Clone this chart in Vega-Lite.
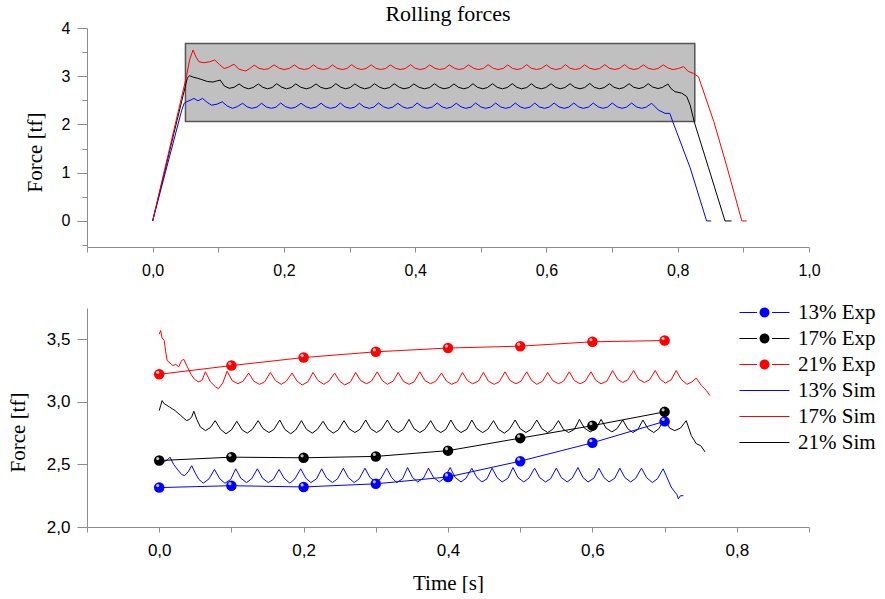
{
"$schema": "https://vega.github.io/schema/vega-lite/v6.json",
"background": "white",
"padding": {"left": 7, "top": 3, "right": 0, "bottom": 0},
"spacing": 24,
"config": {
  "view": {"stroke": null},
  "axis": {"domainColor": "#8c8c8c", "tickColor": "#8c8c8c", "labelColor": "#000000", "labelFont": "Liberation Sans", "titleFont": "Liberation Serif", "titleFontWeight": "normal", "titleColor": "#000000", "grid": false, "titleFontSize": 21},
  "title": {"font": "Liberation Serif", "fontWeight": "normal", "fontSize": 22, "color": "#000000"}
},
"datasets": {
  "box": [{"x1": 0.05, "x2": 0.826, "y1": 2.06, "y2": 3.68}],
  "exp": [
    {"t":0,"f":2.315,"s":"13% Exp"},{"t":0.1,"f":2.33,"s":"13% Exp"},{"t":0.2,"f":2.32,"s":"13% Exp"},{"t":0.3,"f":2.345,"s":"13% Exp"},{"t":0.4,"f":2.4,"s":"13% Exp"},{"t":0.5,"f":2.526,"s":"13% Exp"},{"t":0.6,"f":2.673,"s":"13% Exp"},{"t":0.7,"f":2.844,"s":"13% Exp"},
    {"t":0,"f":2.531,"s":"17% Exp"},{"t":0.1,"f":2.558,"s":"17% Exp"},{"t":0.2,"f":2.553,"s":"17% Exp"},{"t":0.3,"f":2.564,"s":"17% Exp"},{"t":0.4,"f":2.61,"s":"17% Exp"},{"t":0.5,"f":2.71,"s":"17% Exp"},{"t":0.6,"f":2.81,"s":"17% Exp"},{"t":0.7,"f":2.92,"s":"17% Exp"},
    {"t":0,"f":3.22,"s":"21% Exp"},{"t":0.1,"f":3.29,"s":"21% Exp"},{"t":0.2,"f":3.354,"s":"21% Exp"},{"t":0.3,"f":3.4,"s":"21% Exp"},{"t":0.4,"f":3.43,"s":"21% Exp"},{"t":0.5,"f":3.445,"s":"21% Exp"},{"t":0.6,"f":3.48,"s":"21% Exp"},{"t":0.7,"f":3.49,"s":"21% Exp"}
  ],
  "sim": [
    {"t":0,"f":2.545,"s":"13% Sim"},{"t":0.004,"f":2.505,"s":"13% Sim"},{"t":0.008,"f":2.525,"s":"13% Sim"},{"t":0.012,"f":2.54,"s":"13% Sim"},{"t":0.015,"f":2.558,"s":"13% Sim"},{"t":0.02,"f":2.5,"s":"13% Sim"},{"t":0.026,"f":2.455,"s":"13% Sim"},{"t":0.031,"f":2.42,"s":"13% Sim"},{"t":0.035,"f":2.41,"s":"13% Sim"},{"t":0.04,"f":2.44,"s":"13% Sim"},{"t":0.045,"f":2.49,"s":"13% Sim"},{"t":0.05,"f":2.43,"s":"13% Sim"},{"t":0.055,"f":2.38,"s":"13% Sim"},{"t":0.061,"f":2.35,"s":"13% Sim"},{"t":0.069,"f":2.385,"s":"13% Sim"},{"t":0.0765,"f":2.46,"s":"13% Sim"},{"t":0.084,"f":2.385,"s":"13% Sim"},{"t":0.091,"f":2.35,"s":"13% Sim"},{"t":0.099,"f":2.38,"s":"13% Sim"},{"t":0.106,"f":2.465,"s":"13% Sim"},{"t":0.113,"f":2.39,"s":"13% Sim"},{"t":0.121,"f":2.355,"s":"13% Sim"},{"t":0.128,"f":2.385,"s":"13% Sim"},{"t":0.136,"f":2.465,"s":"13% Sim"},{"t":0.143,"f":2.39,"s":"13% Sim"},{"t":0.151,"f":2.355,"s":"13% Sim"},{"t":0.158,"f":2.38,"s":"13% Sim"},{"t":0.166,"f":2.46,"s":"13% Sim"},{"t":0.173,"f":2.39,"s":"13% Sim"},{"t":0.181,"f":2.35,"s":"13% Sim"},{"t":0.188,"f":2.385,"s":"13% Sim"},{"t":0.196,"f":2.465,"s":"13% Sim"},{"t":0.203,"f":2.39,"s":"13% Sim"},{"t":0.21,"f":2.355,"s":"13% Sim"},{"t":0.218,"f":2.385,"s":"13% Sim"},{"t":0.225,"f":2.465,"s":"13% Sim"},{"t":0.232,"f":2.39,"s":"13% Sim"},{"t":0.24,"f":2.355,"s":"13% Sim"},{"t":0.247,"f":2.385,"s":"13% Sim"},{"t":0.255,"f":2.47,"s":"13% Sim"},{"t":0.262,"f":2.395,"s":"13% Sim"},{"t":0.27,"f":2.355,"s":"13% Sim"},{"t":0.277,"f":2.385,"s":"13% Sim"},{"t":0.285,"f":2.47,"s":"13% Sim"},{"t":0.292,"f":2.395,"s":"13% Sim"},{"t":0.3,"f":2.36,"s":"13% Sim"},{"t":0.307,"f":2.385,"s":"13% Sim"},{"t":0.315,"f":2.47,"s":"13% Sim"},{"t":0.322,"f":2.395,"s":"13% Sim"},{"t":0.329,"f":2.355,"s":"13% Sim"},{"t":0.337,"f":2.385,"s":"13% Sim"},{"t":0.344,"f":2.475,"s":"13% Sim"},{"t":0.351,"f":2.395,"s":"13% Sim"},{"t":0.358,"f":2.36,"s":"13% Sim"},{"t":0.366,"f":2.39,"s":"13% Sim"},{"t":0.373,"f":2.47,"s":"13% Sim"},{"t":0.38,"f":2.395,"s":"13% Sim"},{"t":0.388,"f":2.36,"s":"13% Sim"},{"t":0.395,"f":2.39,"s":"13% Sim"},{"t":0.403,"f":2.475,"s":"13% Sim"},{"t":0.41,"f":2.395,"s":"13% Sim"},{"t":0.418,"f":2.36,"s":"13% Sim"},{"t":0.425,"f":2.39,"s":"13% Sim"},{"t":0.433,"f":2.47,"s":"13% Sim"},{"t":0.44,"f":2.395,"s":"13% Sim"},{"t":0.447,"f":2.36,"s":"13% Sim"},{"t":0.454,"f":2.385,"s":"13% Sim"},{"t":0.461,"f":2.47,"s":"13% Sim"},{"t":0.468,"f":2.395,"s":"13% Sim"},{"t":0.475,"f":2.36,"s":"13% Sim"},{"t":0.483,"f":2.39,"s":"13% Sim"},{"t":0.49,"f":2.475,"s":"13% Sim"},{"t":0.497,"f":2.395,"s":"13% Sim"},{"t":0.505,"f":2.36,"s":"13% Sim"},{"t":0.512,"f":2.39,"s":"13% Sim"},{"t":0.52,"f":2.47,"s":"13% Sim"},{"t":0.527,"f":2.395,"s":"13% Sim"},{"t":0.535,"f":2.36,"s":"13% Sim"},{"t":0.542,"f":2.385,"s":"13% Sim"},{"t":0.55,"f":2.47,"s":"13% Sim"},{"t":0.557,"f":2.395,"s":"13% Sim"},{"t":0.565,"f":2.36,"s":"13% Sim"},{"t":0.572,"f":2.39,"s":"13% Sim"},{"t":0.58,"f":2.475,"s":"13% Sim"},{"t":0.587,"f":2.395,"s":"13% Sim"},{"t":0.594,"f":2.36,"s":"13% Sim"},{"t":0.602,"f":2.39,"s":"13% Sim"},{"t":0.609,"f":2.47,"s":"13% Sim"},{"t":0.616,"f":2.395,"s":"13% Sim"},{"t":0.623,"f":2.36,"s":"13% Sim"},{"t":0.631,"f":2.39,"s":"13% Sim"},{"t":0.638,"f":2.47,"s":"13% Sim"},{"t":0.645,"f":2.395,"s":"13% Sim"},{"t":0.653,"f":2.36,"s":"13% Sim"},{"t":0.66,"f":2.39,"s":"13% Sim"},{"t":0.668,"f":2.47,"s":"13% Sim"},{"t":0.675,"f":2.395,"s":"13% Sim"},{"t":0.683,"f":2.355,"s":"13% Sim"},{"t":0.69,"f":2.385,"s":"13% Sim"},{"t":0.698,"f":2.465,"s":"13% Sim"},{"t":0.703,"f":2.4,"s":"13% Sim"},{"t":0.709,"f":2.32,"s":"13% Sim"},{"t":0.714,"f":2.28,"s":"13% Sim"},{"t":0.717,"f":2.26,"s":"13% Sim"},{"t":0.719,"f":2.225,"s":"13% Sim"},{"t":0.722,"f":2.25,"s":"13% Sim"},{"t":0.726,"f":2.25,"s":"13% Sim"},
    {"t":0,"f":3.54,"s":"17% Sim"},{"t":0.002,"f":3.57,"s":"17% Sim"},{"t":0.004,"f":3.51,"s":"17% Sim"},{"t":0.007,"f":3.49,"s":"17% Sim"},{"t":0.009,"f":3.4,"s":"17% Sim"},{"t":0.011,"f":3.33,"s":"17% Sim"},{"t":0.015,"f":3.31,"s":"17% Sim"},{"t":0.019,"f":3.29,"s":"17% Sim"},{"t":0.023,"f":3.3,"s":"17% Sim"},{"t":0.027,"f":3.28,"s":"17% Sim"},{"t":0.031,"f":3.33,"s":"17% Sim"},{"t":0.034,"f":3.34,"s":"17% Sim"},{"t":0.039,"f":3.28,"s":"17% Sim"},{"t":0.044,"f":3.22,"s":"17% Sim"},{"t":0.049,"f":3.18,"s":"17% Sim"},{"t":0.054,"f":3.16,"s":"17% Sim"},{"t":0.059,"f":3.17,"s":"17% Sim"},{"t":0.064,"f":3.24,"s":"17% Sim"},{"t":0.071,"f":3.16,"s":"17% Sim"},{"t":0.078,"f":3.12,"s":"17% Sim"},{"t":0.082,"f":3.105,"s":"17% Sim"},{"t":0.088,"f":3.15,"s":"17% Sim"},{"t":0.094,"f":3.245,"s":"17% Sim"},{"t":0.101,"f":3.17,"s":"17% Sim"},{"t":0.109,"f":3.145,"s":"17% Sim"},{"t":0.116,"f":3.165,"s":"17% Sim"},{"t":0.124,"f":3.23,"s":"17% Sim"},{"t":0.131,"f":3.165,"s":"17% Sim"},{"t":0.139,"f":3.14,"s":"17% Sim"},{"t":0.146,"f":3.16,"s":"17% Sim"},{"t":0.154,"f":3.235,"s":"17% Sim"},{"t":0.161,"f":3.17,"s":"17% Sim"},{"t":0.169,"f":3.14,"s":"17% Sim"},{"t":0.176,"f":3.165,"s":"17% Sim"},{"t":0.184,"f":3.23,"s":"17% Sim"},{"t":0.191,"f":3.165,"s":"17% Sim"},{"t":0.198,"f":3.135,"s":"17% Sim"},{"t":0.206,"f":3.16,"s":"17% Sim"},{"t":0.213,"f":3.235,"s":"17% Sim"},{"t":0.22,"f":3.17,"s":"17% Sim"},{"t":0.228,"f":3.14,"s":"17% Sim"},{"t":0.235,"f":3.165,"s":"17% Sim"},{"t":0.243,"f":3.23,"s":"17% Sim"},{"t":0.25,"f":3.165,"s":"17% Sim"},{"t":0.257,"f":3.135,"s":"17% Sim"},{"t":0.265,"f":3.16,"s":"17% Sim"},{"t":0.272,"f":3.235,"s":"17% Sim"},{"t":0.279,"f":3.17,"s":"17% Sim"},{"t":0.287,"f":3.145,"s":"17% Sim"},{"t":0.294,"f":3.165,"s":"17% Sim"},{"t":0.302,"f":3.24,"s":"17% Sim"},{"t":0.309,"f":3.17,"s":"17% Sim"},{"t":0.316,"f":3.14,"s":"17% Sim"},{"t":0.324,"f":3.165,"s":"17% Sim"},{"t":0.331,"f":3.235,"s":"17% Sim"},{"t":0.338,"f":3.165,"s":"17% Sim"},{"t":0.346,"f":3.14,"s":"17% Sim"},{"t":0.353,"f":3.16,"s":"17% Sim"},{"t":0.361,"f":3.24,"s":"17% Sim"},{"t":0.368,"f":3.17,"s":"17% Sim"},{"t":0.376,"f":3.145,"s":"17% Sim"},{"t":0.383,"f":3.165,"s":"17% Sim"},{"t":0.391,"f":3.23,"s":"17% Sim"},{"t":0.398,"f":3.165,"s":"17% Sim"},{"t":0.405,"f":3.14,"s":"17% Sim"},{"t":0.413,"f":3.16,"s":"17% Sim"},{"t":0.42,"f":3.235,"s":"17% Sim"},{"t":0.427,"f":3.17,"s":"17% Sim"},{"t":0.434,"f":3.145,"s":"17% Sim"},{"t":0.442,"f":3.165,"s":"17% Sim"},{"t":0.449,"f":3.235,"s":"17% Sim"},{"t":0.456,"f":3.165,"s":"17% Sim"},{"t":0.464,"f":3.14,"s":"17% Sim"},{"t":0.471,"f":3.16,"s":"17% Sim"},{"t":0.479,"f":3.24,"s":"17% Sim"},{"t":0.486,"f":3.17,"s":"17% Sim"},{"t":0.494,"f":3.145,"s":"17% Sim"},{"t":0.501,"f":3.165,"s":"17% Sim"},{"t":0.509,"f":3.24,"s":"17% Sim"},{"t":0.516,"f":3.17,"s":"17% Sim"},{"t":0.523,"f":3.14,"s":"17% Sim"},{"t":0.531,"f":3.165,"s":"17% Sim"},{"t":0.538,"f":3.235,"s":"17% Sim"},{"t":0.545,"f":3.17,"s":"17% Sim"},{"t":0.553,"f":3.145,"s":"17% Sim"},{"t":0.56,"f":3.165,"s":"17% Sim"},{"t":0.568,"f":3.24,"s":"17% Sim"},{"t":0.575,"f":3.17,"s":"17% Sim"},{"t":0.583,"f":3.145,"s":"17% Sim"},{"t":0.59,"f":3.165,"s":"17% Sim"},{"t":0.598,"f":3.24,"s":"17% Sim"},{"t":0.605,"f":3.17,"s":"17% Sim"},{"t":0.612,"f":3.145,"s":"17% Sim"},{"t":0.62,"f":3.165,"s":"17% Sim"},{"t":0.628,"f":3.25,"s":"17% Sim"},{"t":0.635,"f":3.18,"s":"17% Sim"},{"t":0.642,"f":3.155,"s":"17% Sim"},{"t":0.649,"f":3.175,"s":"17% Sim"},{"t":0.657,"f":3.25,"s":"17% Sim"},{"t":0.664,"f":3.18,"s":"17% Sim"},{"t":0.672,"f":3.155,"s":"17% Sim"},{"t":0.679,"f":3.175,"s":"17% Sim"},{"t":0.687,"f":3.25,"s":"17% Sim"},{"t":0.694,"f":3.18,"s":"17% Sim"},{"t":0.701,"f":3.15,"s":"17% Sim"},{"t":0.709,"f":3.175,"s":"17% Sim"},{"t":0.716,"f":3.25,"s":"17% Sim"},{"t":0.723,"f":3.18,"s":"17% Sim"},{"t":0.731,"f":3.14,"s":"17% Sim"},{"t":0.738,"f":3.16,"s":"17% Sim"},{"t":0.744,"f":3.19,"s":"17% Sim"},{"t":0.751,"f":3.13,"s":"17% Sim"},{"t":0.758,"f":3.09,"s":"17% Sim"},{"t":0.7627,"f":3.05,"s":"17% Sim"},
    {"t":0,"f":2.93,"s":"21% Sim"},{"t":0.002,"f":2.97,"s":"21% Sim"},{"t":0.004,"f":3.01,"s":"21% Sim"},{"t":0.007,"f":2.985,"s":"21% Sim"},{"t":0.01,"f":2.975,"s":"21% Sim"},{"t":0.014,"f":2.96,"s":"21% Sim"},{"t":0.018,"f":2.945,"s":"21% Sim"},{"t":0.022,"f":2.93,"s":"21% Sim"},{"t":0.026,"f":2.91,"s":"21% Sim"},{"t":0.03,"f":2.89,"s":"21% Sim"},{"t":0.034,"f":2.87,"s":"21% Sim"},{"t":0.038,"f":2.85,"s":"21% Sim"},{"t":0.042,"f":2.86,"s":"21% Sim"},{"t":0.045,"f":2.88,"s":"21% Sim"},{"t":0.048,"f":2.925,"s":"21% Sim"},{"t":0.052,"f":2.86,"s":"21% Sim"},{"t":0.057,"f":2.8,"s":"21% Sim"},{"t":0.064,"f":2.77,"s":"21% Sim"},{"t":0.071,"f":2.795,"s":"21% Sim"},{"t":0.0775,"f":2.85,"s":"21% Sim"},{"t":0.085,"f":2.78,"s":"21% Sim"},{"t":0.0925,"f":2.745,"s":"21% Sim"},{"t":0.1,"f":2.775,"s":"21% Sim"},{"t":0.1075,"f":2.845,"s":"21% Sim"},{"t":0.115,"f":2.775,"s":"21% Sim"},{"t":0.122,"f":2.75,"s":"21% Sim"},{"t":0.129,"f":2.78,"s":"21% Sim"},{"t":0.137,"f":2.85,"s":"21% Sim"},{"t":0.144,"f":2.785,"s":"21% Sim"},{"t":0.152,"f":2.755,"s":"21% Sim"},{"t":0.159,"f":2.78,"s":"21% Sim"},{"t":0.167,"f":2.855,"s":"21% Sim"},{"t":0.174,"f":2.78,"s":"21% Sim"},{"t":0.182,"f":2.745,"s":"21% Sim"},{"t":0.189,"f":2.775,"s":"21% Sim"},{"t":0.197,"f":2.85,"s":"21% Sim"},{"t":0.204,"f":2.78,"s":"21% Sim"},{"t":0.212,"f":2.75,"s":"21% Sim"},{"t":0.219,"f":2.78,"s":"21% Sim"},{"t":0.227,"f":2.845,"s":"21% Sim"},{"t":0.234,"f":2.78,"s":"21% Sim"},{"t":0.241,"f":2.75,"s":"21% Sim"},{"t":0.248,"f":2.775,"s":"21% Sim"},{"t":0.256,"f":2.85,"s":"21% Sim"},{"t":0.263,"f":2.785,"s":"21% Sim"},{"t":0.271,"f":2.755,"s":"21% Sim"},{"t":0.278,"f":2.78,"s":"21% Sim"},{"t":0.286,"f":2.855,"s":"21% Sim"},{"t":0.293,"f":2.785,"s":"21% Sim"},{"t":0.301,"f":2.755,"s":"21% Sim"},{"t":0.308,"f":2.78,"s":"21% Sim"},{"t":0.316,"f":2.855,"s":"21% Sim"},{"t":0.323,"f":2.785,"s":"21% Sim"},{"t":0.331,"f":2.755,"s":"21% Sim"},{"t":0.338,"f":2.78,"s":"21% Sim"},{"t":0.346,"f":2.86,"s":"21% Sim"},{"t":0.353,"f":2.785,"s":"21% Sim"},{"t":0.361,"f":2.755,"s":"21% Sim"},{"t":0.368,"f":2.78,"s":"21% Sim"},{"t":0.376,"f":2.85,"s":"21% Sim"},{"t":0.383,"f":2.78,"s":"21% Sim"},{"t":0.39,"f":2.755,"s":"21% Sim"},{"t":0.397,"f":2.78,"s":"21% Sim"},{"t":0.404,"f":2.855,"s":"21% Sim"},{"t":0.411,"f":2.785,"s":"21% Sim"},{"t":0.418,"f":2.755,"s":"21% Sim"},{"t":0.426,"f":2.78,"s":"21% Sim"},{"t":0.433,"f":2.855,"s":"21% Sim"},{"t":0.44,"f":2.785,"s":"21% Sim"},{"t":0.448,"f":2.755,"s":"21% Sim"},{"t":0.455,"f":2.78,"s":"21% Sim"},{"t":0.463,"f":2.85,"s":"21% Sim"},{"t":0.47,"f":2.78,"s":"21% Sim"},{"t":0.478,"f":2.75,"s":"21% Sim"},{"t":0.485,"f":2.78,"s":"21% Sim"},{"t":0.493,"f":2.855,"s":"21% Sim"},{"t":0.5,"f":2.785,"s":"21% Sim"},{"t":0.508,"f":2.755,"s":"21% Sim"},{"t":0.515,"f":2.78,"s":"21% Sim"},{"t":0.523,"f":2.855,"s":"21% Sim"},{"t":0.53,"f":2.785,"s":"21% Sim"},{"t":0.538,"f":2.755,"s":"21% Sim"},{"t":0.545,"f":2.78,"s":"21% Sim"},{"t":0.553,"f":2.85,"s":"21% Sim"},{"t":0.56,"f":2.78,"s":"21% Sim"},{"t":0.567,"f":2.755,"s":"21% Sim"},{"t":0.575,"f":2.78,"s":"21% Sim"},{"t":0.582,"f":2.86,"s":"21% Sim"},{"t":0.589,"f":2.79,"s":"21% Sim"},{"t":0.597,"f":2.76,"s":"21% Sim"},{"t":0.605,"f":2.785,"s":"21% Sim"},{"t":0.612,"f":2.86,"s":"21% Sim"},{"t":0.619,"f":2.79,"s":"21% Sim"},{"t":0.627,"f":2.76,"s":"21% Sim"},{"t":0.634,"f":2.785,"s":"21% Sim"},{"t":0.642,"f":2.855,"s":"21% Sim"},{"t":0.649,"f":2.785,"s":"21% Sim"},{"t":0.656,"f":2.755,"s":"21% Sim"},{"t":0.663,"f":2.78,"s":"21% Sim"},{"t":0.67,"f":2.855,"s":"21% Sim"},{"t":0.677,"f":2.785,"s":"21% Sim"},{"t":0.685,"f":2.755,"s":"21% Sim"},{"t":0.692,"f":2.785,"s":"21% Sim"},{"t":0.7,"f":2.865,"s":"21% Sim"},{"t":0.707,"f":2.79,"s":"21% Sim"},{"t":0.714,"f":2.77,"s":"21% Sim"},{"t":0.722,"f":2.79,"s":"21% Sim"},{"t":0.73,"f":2.85,"s":"21% Sim"},{"t":0.737,"f":2.73,"s":"21% Sim"},{"t":0.744,"f":2.665,"s":"21% Sim"},{"t":0.75,"f":2.65,"s":"21% Sim"},{"t":0.756,"f":2.6,"s":"21% Sim"}
  ],
  "top": [
    {"t":0,"f":0,"s":"13%"},{"t":0.044,"f":2.28,"s":"13%"},{"t":0.048,"f":2.44,"s":"13%"},{"t":0.0514,"f":2.47,"s":"13%"},{"t":0.057,"f":2.5,"s":"13%"},{"t":0.063,"f":2.54,"s":"13%"},{"t":0.069,"f":2.49,"s":"13%"},{"t":0.076,"f":2.54,"s":"13%"},{"t":0.083,"f":2.46,"s":"13%"},{"t":0.0896,"f":2.4,"s":"13%"},{"t":0.098,"f":2.42,"s":"13%"},{"t":0.106,"f":2.47,"s":"13%"},{"t":0.114,"f":2.38,"s":"13%"},{"t":0.1217,"f":2.335,"s":"13%"},{"t":0.129,"f":2.37,"s":"13%"},{"t":0.137,"f":2.44,"s":"13%"},{"t":0.144,"f":2.365,"s":"13%"},{"t":0.151,"f":2.335,"s":"13%"},{"t":0.159,"f":2.36,"s":"13%"},{"t":0.166,"f":2.44,"s":"13%"},{"t":0.173,"f":2.365,"s":"13%"},{"t":0.181,"f":2.335,"s":"13%"},{"t":0.188,"f":2.36,"s":"13%"},{"t":0.195,"f":2.445,"s":"13%"},{"t":0.203,"f":2.365,"s":"13%"},{"t":0.211,"f":2.335,"s":"13%"},{"t":0.218,"f":2.36,"s":"13%"},{"t":0.226,"f":2.44,"s":"13%"},{"t":0.234,"f":2.365,"s":"13%"},{"t":0.241,"f":2.335,"s":"13%"},{"t":0.249,"f":2.36,"s":"13%"},{"t":0.2565,"f":2.44,"s":"13%"},{"t":0.264,"f":2.365,"s":"13%"},{"t":0.271,"f":2.335,"s":"13%"},{"t":0.279,"f":2.36,"s":"13%"},{"t":0.286,"f":2.445,"s":"13%"},{"t":0.293,"f":2.365,"s":"13%"},{"t":0.301,"f":2.335,"s":"13%"},{"t":0.308,"f":2.36,"s":"13%"},{"t":0.315,"f":2.44,"s":"13%"},{"t":0.322,"f":2.365,"s":"13%"},{"t":0.33,"f":2.335,"s":"13%"},{"t":0.337,"f":2.36,"s":"13%"},{"t":0.344,"f":2.445,"s":"13%"},{"t":0.352,"f":2.365,"s":"13%"},{"t":0.359,"f":2.335,"s":"13%"},{"t":0.366,"f":2.36,"s":"13%"},{"t":0.3735,"f":2.44,"s":"13%"},{"t":0.381,"f":2.365,"s":"13%"},{"t":0.388,"f":2.335,"s":"13%"},{"t":0.396,"f":2.36,"s":"13%"},{"t":0.403,"f":2.445,"s":"13%"},{"t":0.411,"f":2.365,"s":"13%"},{"t":0.418,"f":2.335,"s":"13%"},{"t":0.426,"f":2.36,"s":"13%"},{"t":0.4336,"f":2.445,"s":"13%"},{"t":0.441,"f":2.365,"s":"13%"},{"t":0.448,"f":2.335,"s":"13%"},{"t":0.455,"f":2.36,"s":"13%"},{"t":0.4626,"f":2.44,"s":"13%"},{"t":0.47,"f":2.365,"s":"13%"},{"t":0.477,"f":2.335,"s":"13%"},{"t":0.485,"f":2.36,"s":"13%"},{"t":0.492,"f":2.445,"s":"13%"},{"t":0.5,"f":2.365,"s":"13%"},{"t":0.507,"f":2.335,"s":"13%"},{"t":0.515,"f":2.36,"s":"13%"},{"t":0.5226,"f":2.445,"s":"13%"},{"t":0.53,"f":2.365,"s":"13%"},{"t":0.538,"f":2.335,"s":"13%"},{"t":0.545,"f":2.36,"s":"13%"},{"t":0.5527,"f":2.445,"s":"13%"},{"t":0.56,"f":2.365,"s":"13%"},{"t":0.567,"f":2.335,"s":"13%"},{"t":0.575,"f":2.36,"s":"13%"},{"t":0.5822,"f":2.445,"s":"13%"},{"t":0.589,"f":2.365,"s":"13%"},{"t":0.597,"f":2.335,"s":"13%"},{"t":0.604,"f":2.36,"s":"13%"},{"t":0.6117,"f":2.445,"s":"13%"},{"t":0.619,"f":2.365,"s":"13%"},{"t":0.627,"f":2.335,"s":"13%"},{"t":0.634,"f":2.36,"s":"13%"},{"t":0.6417,"f":2.445,"s":"13%"},{"t":0.649,"f":2.365,"s":"13%"},{"t":0.656,"f":2.335,"s":"13%"},{"t":0.664,"f":2.36,"s":"13%"},{"t":0.6713,"f":2.445,"s":"13%"},{"t":0.679,"f":2.365,"s":"13%"},{"t":0.686,"f":2.335,"s":"13%"},{"t":0.693,"f":2.36,"s":"13%"},{"t":0.7003,"f":2.445,"s":"13%"},{"t":0.708,"f":2.365,"s":"13%"},{"t":0.715,"f":2.335,"s":"13%"},{"t":0.722,"f":2.36,"s":"13%"},{"t":0.7298,"f":2.445,"s":"13%"},{"t":0.737,"f":2.365,"s":"13%"},{"t":0.745,"f":2.335,"s":"13%"},{"t":0.752,"f":2.36,"s":"13%"},{"t":0.7603,"f":2.44,"s":"13%"},{"t":0.7705,"f":2.3,"s":"13%"},{"t":0.7807,"f":2.23,"s":"13%"},{"t":0.788,"f":2.23,"s":"13%"},{"t":0.7924,"f":2.06,"s":"13%"},{"t":0.819,"f":1.1,"s":"13%"},{"t":0.844,"f":0,"s":"13%"},{"t":0.851,"f":0,"s":"13%"},
    {"t":0,"f":0,"s":"21%"},{"t":0.053,"f":2.97,"s":"21%"},{"t":0.0565,"f":3.01,"s":"21%"},{"t":0.062,"f":2.98,"s":"21%"},{"t":0.068,"f":2.96,"s":"21%"},{"t":0.075,"f":2.93,"s":"21%"},{"t":0.0835,"f":2.89,"s":"21%"},{"t":0.092,"f":2.88,"s":"21%"},{"t":0.097,"f":2.9,"s":"21%"},{"t":0.103,"f":2.92,"s":"21%"},{"t":0.109,"f":2.8,"s":"21%"},{"t":0.1166,"f":2.75,"s":"21%"},{"t":0.124,"f":2.77,"s":"21%"},{"t":0.1318,"f":2.84,"s":"21%"},{"t":0.139,"f":2.77,"s":"21%"},{"t":0.146,"f":2.74,"s":"21%"},{"t":0.153,"f":2.765,"s":"21%"},{"t":0.161,"f":2.84,"s":"21%"},{"t":0.168,"f":2.77,"s":"21%"},{"t":0.175,"f":2.74,"s":"21%"},{"t":0.182,"f":2.765,"s":"21%"},{"t":0.189,"f":2.845,"s":"21%"},{"t":0.197,"f":2.77,"s":"21%"},{"t":0.204,"f":2.74,"s":"21%"},{"t":0.211,"f":2.765,"s":"21%"},{"t":0.218,"f":2.84,"s":"21%"},{"t":0.226,"f":2.77,"s":"21%"},{"t":0.234,"f":2.74,"s":"21%"},{"t":0.241,"f":2.765,"s":"21%"},{"t":0.249,"f":2.84,"s":"21%"},{"t":0.256,"f":2.77,"s":"21%"},{"t":0.264,"f":2.74,"s":"21%"},{"t":0.272,"f":2.765,"s":"21%"},{"t":0.279,"f":2.845,"s":"21%"},{"t":0.287,"f":2.77,"s":"21%"},{"t":0.294,"f":2.74,"s":"21%"},{"t":0.301,"f":2.765,"s":"21%"},{"t":0.308,"f":2.84,"s":"21%"},{"t":0.316,"f":2.77,"s":"21%"},{"t":0.323,"f":2.74,"s":"21%"},{"t":0.331,"f":2.765,"s":"21%"},{"t":0.338,"f":2.845,"s":"21%"},{"t":0.346,"f":2.77,"s":"21%"},{"t":0.353,"f":2.74,"s":"21%"},{"t":0.361,"f":2.765,"s":"21%"},{"t":0.368,"f":2.845,"s":"21%"},{"t":0.376,"f":2.77,"s":"21%"},{"t":0.383,"f":2.74,"s":"21%"},{"t":0.391,"f":2.765,"s":"21%"},{"t":0.398,"f":2.84,"s":"21%"},{"t":0.406,"f":2.77,"s":"21%"},{"t":0.414,"f":2.74,"s":"21%"},{"t":0.422,"f":2.765,"s":"21%"},{"t":0.4295,"f":2.845,"s":"21%"},{"t":0.437,"f":2.77,"s":"21%"},{"t":0.444,"f":2.74,"s":"21%"},{"t":0.452,"f":2.765,"s":"21%"},{"t":0.459,"f":2.84,"s":"21%"},{"t":0.466,"f":2.77,"s":"21%"},{"t":0.474,"f":2.74,"s":"21%"},{"t":0.481,"f":2.765,"s":"21%"},{"t":0.488,"f":2.845,"s":"21%"},{"t":0.495,"f":2.77,"s":"21%"},{"t":0.503,"f":2.74,"s":"21%"},{"t":0.51,"f":2.765,"s":"21%"},{"t":0.518,"f":2.845,"s":"21%"},{"t":0.525,"f":2.77,"s":"21%"},{"t":0.533,"f":2.74,"s":"21%"},{"t":0.54,"f":2.765,"s":"21%"},{"t":0.548,"f":2.845,"s":"21%"},{"t":0.555,"f":2.77,"s":"21%"},{"t":0.562,"f":2.74,"s":"21%"},{"t":0.57,"f":2.765,"s":"21%"},{"t":0.577,"f":2.845,"s":"21%"},{"t":0.584,"f":2.77,"s":"21%"},{"t":0.592,"f":2.74,"s":"21%"},{"t":0.599,"f":2.765,"s":"21%"},{"t":0.607,"f":2.845,"s":"21%"},{"t":0.614,"f":2.77,"s":"21%"},{"t":0.621,"f":2.74,"s":"21%"},{"t":0.628,"f":2.765,"s":"21%"},{"t":0.636,"f":2.845,"s":"21%"},{"t":0.643,"f":2.77,"s":"21%"},{"t":0.651,"f":2.74,"s":"21%"},{"t":0.658,"f":2.765,"s":"21%"},{"t":0.666,"f":2.85,"s":"21%"},{"t":0.673,"f":2.77,"s":"21%"},{"t":0.681,"f":2.74,"s":"21%"},{"t":0.688,"f":2.765,"s":"21%"},{"t":0.696,"f":2.845,"s":"21%"},{"t":0.703,"f":2.77,"s":"21%"},{"t":0.711,"f":2.74,"s":"21%"},{"t":0.718,"f":2.765,"s":"21%"},{"t":0.726,"f":2.845,"s":"21%"},{"t":0.733,"f":2.77,"s":"21%"},{"t":0.741,"f":2.745,"s":"21%"},{"t":0.748,"f":2.77,"s":"21%"},{"t":0.755,"f":2.845,"s":"21%"},{"t":0.762,"f":2.775,"s":"21%"},{"t":0.77,"f":2.745,"s":"21%"},{"t":0.777,"f":2.77,"s":"21%"},{"t":0.785,"f":2.84,"s":"21%"},{"t":0.79,"f":2.74,"s":"21%"},{"t":0.796,"f":2.68,"s":"21%"},{"t":0.806,"f":2.65,"s":"21%"},{"t":0.8137,"f":2.58,"s":"21%"},{"t":0.819,"f":2.4,"s":"21%"},{"t":0.825,"f":2.06,"s":"21%"},{"t":0.847,"f":1.1,"s":"21%"},{"t":0.872,"f":0,"s":"21%"},{"t":0.882,"f":0,"s":"21%"},
    {"t":0,"f":0,"s":"17%"},{"t":0.0514,"f":2.99,"s":"17%"},{"t":0.0565,"f":3.35,"s":"17%"},{"t":0.0616,"f":3.544,"s":"17%"},{"t":0.066,"f":3.4,"s":"17%"},{"t":0.0707,"f":3.3,"s":"17%"},{"t":0.078,"f":3.28,"s":"17%"},{"t":0.087,"f":3.3,"s":"17%"},{"t":0.0947,"f":3.337,"s":"17%"},{"t":0.102,"f":3.24,"s":"17%"},{"t":0.109,"f":3.16,"s":"17%"},{"t":0.116,"f":3.19,"s":"17%"},{"t":0.124,"f":3.25,"s":"17%"},{"t":0.131,"f":3.15,"s":"17%"},{"t":0.138,"f":3.12,"s":"17%"},{"t":0.142,"f":3.11,"s":"17%"},{"t":0.148,"f":3.16,"s":"17%"},{"t":0.1547,"f":3.23,"s":"17%"},{"t":0.162,"f":3.165,"s":"17%"},{"t":0.17,"f":3.14,"s":"17%"},{"t":0.177,"f":3.16,"s":"17%"},{"t":0.185,"f":3.235,"s":"17%"},{"t":0.193,"f":3.165,"s":"17%"},{"t":0.2,"f":3.14,"s":"17%"},{"t":0.208,"f":3.16,"s":"17%"},{"t":0.216,"f":3.235,"s":"17%"},{"t":0.223,"f":3.165,"s":"17%"},{"t":0.231,"f":3.14,"s":"17%"},{"t":0.238,"f":3.16,"s":"17%"},{"t":0.245,"f":3.235,"s":"17%"},{"t":0.252,"f":3.165,"s":"17%"},{"t":0.26,"f":3.14,"s":"17%"},{"t":0.267,"f":3.16,"s":"17%"},{"t":0.274,"f":3.235,"s":"17%"},{"t":0.281,"f":3.165,"s":"17%"},{"t":0.289,"f":3.14,"s":"17%"},{"t":0.296,"f":3.16,"s":"17%"},{"t":0.303,"f":3.24,"s":"17%"},{"t":0.311,"f":3.165,"s":"17%"},{"t":0.318,"f":3.14,"s":"17%"},{"t":0.325,"f":3.16,"s":"17%"},{"t":0.333,"f":3.235,"s":"17%"},{"t":0.34,"f":3.165,"s":"17%"},{"t":0.347,"f":3.14,"s":"17%"},{"t":0.355,"f":3.16,"s":"17%"},{"t":0.362,"f":3.235,"s":"17%"},{"t":0.37,"f":3.165,"s":"17%"},{"t":0.377,"f":3.14,"s":"17%"},{"t":0.385,"f":3.16,"s":"17%"},{"t":0.393,"f":3.24,"s":"17%"},{"t":0.4,"f":3.165,"s":"17%"},{"t":0.407,"f":3.14,"s":"17%"},{"t":0.415,"f":3.16,"s":"17%"},{"t":0.422,"f":3.235,"s":"17%"},{"t":0.43,"f":3.165,"s":"17%"},{"t":0.437,"f":3.14,"s":"17%"},{"t":0.445,"f":3.16,"s":"17%"},{"t":0.452,"f":3.235,"s":"17%"},{"t":0.46,"f":3.165,"s":"17%"},{"t":0.467,"f":3.14,"s":"17%"},{"t":0.474,"f":3.16,"s":"17%"},{"t":0.481,"f":3.235,"s":"17%"},{"t":0.489,"f":3.165,"s":"17%"},{"t":0.496,"f":3.14,"s":"17%"},{"t":0.504,"f":3.16,"s":"17%"},{"t":0.511,"f":3.24,"s":"17%"},{"t":0.519,"f":3.165,"s":"17%"},{"t":0.526,"f":3.14,"s":"17%"},{"t":0.534,"f":3.16,"s":"17%"},{"t":0.541,"f":3.235,"s":"17%"},{"t":0.548,"f":3.165,"s":"17%"},{"t":0.555,"f":3.14,"s":"17%"},{"t":0.562,"f":3.16,"s":"17%"},{"t":0.57,"f":3.24,"s":"17%"},{"t":0.577,"f":3.165,"s":"17%"},{"t":0.585,"f":3.14,"s":"17%"},{"t":0.592,"f":3.16,"s":"17%"},{"t":0.6,"f":3.235,"s":"17%"},{"t":0.607,"f":3.165,"s":"17%"},{"t":0.614,"f":3.14,"s":"17%"},{"t":0.622,"f":3.16,"s":"17%"},{"t":0.629,"f":3.24,"s":"17%"},{"t":0.636,"f":3.165,"s":"17%"},{"t":0.644,"f":3.14,"s":"17%"},{"t":0.651,"f":3.16,"s":"17%"},{"t":0.658,"f":3.235,"s":"17%"},{"t":0.666,"f":3.165,"s":"17%"},{"t":0.674,"f":3.14,"s":"17%"},{"t":0.681,"f":3.16,"s":"17%"},{"t":0.689,"f":3.24,"s":"17%"},{"t":0.696,"f":3.165,"s":"17%"},{"t":0.704,"f":3.14,"s":"17%"},{"t":0.711,"f":3.16,"s":"17%"},{"t":0.719,"f":3.24,"s":"17%"},{"t":0.726,"f":3.165,"s":"17%"},{"t":0.733,"f":3.14,"s":"17%"},{"t":0.74,"f":3.16,"s":"17%"},{"t":0.748,"f":3.235,"s":"17%"},{"t":0.755,"f":3.165,"s":"17%"},{"t":0.763,"f":3.14,"s":"17%"},{"t":0.77,"f":3.16,"s":"17%"},{"t":0.778,"f":3.235,"s":"17%"},{"t":0.786,"f":3.165,"s":"17%"},{"t":0.793,"f":3.14,"s":"17%"},{"t":0.801,"f":3.16,"s":"17%"},{"t":0.809,"f":3.2,"s":"17%"},{"t":0.816,"f":3.1,"s":"17%"},{"t":0.824,"f":3.06,"s":"17%"},{"t":0.8316,"f":2.99,"s":"17%"},{"t":0.855,"f":2.06,"s":"17%"},{"t":0.875,"f":1.12,"s":"17%"},{"t":0.8977,"f":0,"s":"17%"},{"t":0.905,"f":0,"s":"17%"}
  ]
},
"vconcat": [
  {
    "width": 722, "height": 219,
    "title": {"text": "Rolling forces", "offset": -6},
    "layer": [
      {
        "data": {"name": "box"},
        "mark": {"type": "rect", "fill": "#c0c0c0", "stroke": "#555555", "strokeWidth": 1.5},
        "encoding": {
          "x": {"field": "x1", "type": "quantitative", "scale": {"domain": [-0.1, 1.0], "nice": false, "zero": false},
                "axis": {"title": null, "values": [-0.1,0,0.1,0.2,0.3,0.4,0.5,0.6,0.7,0.8,0.9,1.0], "labelExpr": "round(datum.value*10)%2===0 ? replace(format(datum.value,'.1f'),'.',',') : ''", "labelFontSize": 16, "labelPadding": 10, "tickSize": 5, "labelFlush": false, "labelOverlap": false}},
          "x2": {"field": "x2"},
          "y": {"field": "y1", "type": "quantitative", "scale": {"domain": [-0.54, 4], "nice": false, "zero": false},
                "axis": {"title": "Force [tf]", "titlePadding": 16, "titleY": 124, "values": [-0.5,0,0.5,1,1.5,2,2.5,3,3.5,4], "labelExpr": "round(datum.value*2)%2===0 ? replace(format(datum.value,'.1f'),'.0','') : ''", "labelFontSize": 16, "labelPadding": 7, "tickSize": {"condition": {"test": "round(datum.value*2)%2===0", "value": 10}, "value": 5}, "labelOverlap": false, "labelFlush": false}},
          "y2": {"field": "y2"}
        }
      },
      {
        "data": {"name": "top"},
        "mark": {"type": "line", "strokeWidth": 1, "clip": true},
        "encoding": {
          "x": {"field": "t", "type": "quantitative",
                "axis": {"title": null, "values": [-0.1,0,0.1,0.2,0.3,0.4,0.5,0.6,0.7,0.8,0.9,1.0], "labelExpr": "round(datum.value*10)%2===0 ? replace(format(datum.value,'.1f'),'.',',') : ''", "labelFontSize": 16, "labelPadding": 10, "tickSize": 5, "labelFlush": false, "labelOverlap": false}},
          "y": {"field": "f", "type": "quantitative",
                "axis": {"title": "Force [tf]", "titlePadding": 16, "titleY": 124, "values": [-0.5,0,0.5,1,1.5,2,2.5,3,3.5,4], "labelExpr": "round(datum.value*2)%2===0 ? replace(format(datum.value,'.1f'),'.0','') : ''", "labelFontSize": 16, "labelPadding": 7, "tickSize": {"condition": {"test": "round(datum.value*2)%2===0", "value": 10}, "value": 5}, "labelOverlap": false, "labelFlush": false}},
          "color": {"field": "s", "type": "nominal", "scale": {"domain": ["13%", "17%", "21%"], "range": ["#0000ff", "#ff0000", "#000000"]}, "legend": null}
        }
      }
    ]
  },
  {
    "width": 722, "height": 219,
    "layer": [
      {
        "data": {"name": "sim"},
        "mark": {"type": "line", "strokeWidth": 1},
        "encoding": {
          "x": {"field": "t", "type": "quantitative", "scale": {"domain": [-0.1, 0.9], "nice": false, "zero": false},
                "axis": {"title": "Time [s]", "titlePadding": 14, "values": [-0.1,0,0.1,0.2,0.3,0.4,0.5,0.6,0.7,0.8,0.9], "labelExpr": "round(datum.value*10)%2===0 ? replace(format(datum.value,'.1f'),'.',',') : ''", "labelFontSize": 17, "labelPadding": 10, "tickSize": 5, "labelFlush": false, "labelOverlap": false}},
          "y": {"field": "f", "type": "quantitative", "scale": {"domain": [2, 3.75], "nice": false, "zero": false},
                "axis": {"title": "Force [tf]", "titlePadding": 18, "titleY": 124, "values": [2,2.25,2.5,2.75,3,3.25,3.5,3.75], "labelExpr": "round(datum.value*4)%2===0 ? replace(format(datum.value,'.1f'),'.',',') : ''", "labelFontSize": 17, "labelPadding": 7, "tickSize": {"condition": {"test": "round(datum.value*4)%2===0", "value": 10}, "value": 5}, "labelOverlap": false}},
          "color": {"field": "s", "type": "nominal", "scale": {"domain": ["13% Sim", "17% Sim", "21% Sim"], "range": ["#0000ff", "#ff0000", "#000000"]},
                    "legend": {"orient": "none", "legendX": 667, "legendY": 72, "title": null, "symbolType": "M-5,0H5", "symbolSize": 100, "symbolStrokeWidth": 1, "labelFont": "Liberation Serif", "labelFontSize": 21, "labelOffset": 23, "rowPadding": 4, "padding": 0}}
        }
      },
      {
        "data": {"name": "exp"},
        "mark": {"type": "line", "strokeWidth": 1},
        "encoding": {
          "x": {"field": "t", "type": "quantitative"},
          "y": {"field": "f", "type": "quantitative"},
          "color": {"field": "s", "type": "nominal", "scale": {"domain": ["13% Exp", "17% Exp", "21% Exp"], "range": ["#0000ff", "#000000", "#ff0000"]}, "legend": null}
        }
      },
      {
        "data": {"name": "exp"},
        "mark": {"type": "point", "filled": true, "size": 110, "opacity": 1},
        "encoding": {
          "x": {"field": "t", "type": "quantitative"},
          "y": {"field": "f", "type": "quantitative"},
          "color": {"field": "s", "type": "nominal", "scale": {"domain": ["13% Exp", "17% Exp", "21% Exp"], "range": ["#0000ff", "#000000", "#ff0000"]},
                    "legend": {"orient": "none", "legendX": 667, "legendY": -6, "title": null, "symbolType": "M-5,-0.1H-1.5V0.1H-5Z M1.5,-0.1H5V0.1H1.5Z M1,0A1,1,0,1,1,-1,0A1,1,0,1,1,1,0Z", "symbolSize": 100, "symbolOpacity": 1, "symbolStrokeWidth": 0, "labelFont": "Liberation Serif", "labelFontSize": 21, "labelOffset": 23, "rowPadding": 4, "padding": 0}}
        }
      },
      {
        "data": {"name": "exp"},
        "mark": {"type": "point", "filled": true, "size": 10, "color": "#ffffff", "opacity": 0.75, "xOffset": -1.5, "yOffset": -2},
        "encoding": {
          "x": {"field": "t", "type": "quantitative"},
          "y": {"field": "f", "type": "quantitative"}
        }
      }
    ],
    "resolve": {"scale": {"color": "independent"}}
  }
]
}
